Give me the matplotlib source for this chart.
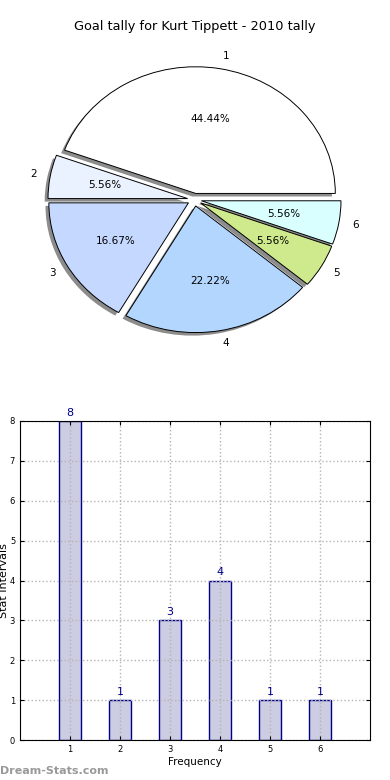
import matplotlib
matplotlib.use("Agg")
from matplotlib import pyplot as plt

# data
labels = ["1", "2", "3", "4", "5", "6"]
counts = [8, 1, 3, 4, 1, 1]
pie_colors = ["#FFFFFF", "#EAF1FF", "#C5D8FF", "#B3D6FF", "#CFEA8C", "#DAFFFF"]
title = "Goal tally for Kurt Tippett - 2010 tally"

fig = plt.figure(figsize=(3.9, 7.8), dpi=100)

# --- pie (old style, not equal aspect) ---
ax1 = fig.add_axes([20 / 390, 0.541, 349 / 390, 0.406])
# plain grey shadow under every wedge, like the old matplotlib look
ax1.pie(counts, colors=["#8c8c8c"] * len(counts), explode=[0.05] * 6,
        startangle=0, center=(-0.024, -0.024), frame=False,
        wedgeprops=dict(linewidth=0))
wedges, texts, autotexts = ax1.pie(
    counts, labels=labels, colors=pie_colors, explode=[0.05] * 6,
    autopct="%.2f%%", startangle=0,
    wedgeprops=dict(edgecolor="black", linewidth=0.7),
    textprops=dict(fontsize=7.5))
ax1.set_aspect("auto")
ax1.set_xlim(-1.25, 1.25)
ax1.set_ylim(-1.25, 1.25)
ax1.set_title(title, fontsize=9.3, pad=8)
ax1.axis("off")

# --- bars ---
ax2 = fig.add_axes([20 / 390, 40 / 780, 350 / 390, 319 / 780])
x = range(1, len(counts) + 1)
ax2.bar(x, counts, width=0.45, color="#CCCCE2", edgecolor="#000088", linewidth=1)
for xi, c in zip(x, counts):
    ax2.text(xi, c + 0.08, str(c), ha="center", va="bottom", fontsize=8, color="#000088")
ax2.set_xlim(0, 7)
ax2.set_ylim(0, 8)
ax2.set_xticks(list(x))
ax2.set_xticklabels(labels)
ax2.grid(True, color="#b4b4b4", linestyle=":", linewidth=1)
ax2.tick_params(labelsize=6, direction="in", top=True, right=True, length=3)
ax2.set_xlabel("Frequency", fontsize=7.5, labelpad=2)
ax2.set_ylabel("Stat Intervals", fontsize=8)
ax2.yaxis.set_label_coords(-0.03, 0.5)

fig.text(0.0, 0.008, "Dream-Stats.com", fontsize=8, color="#999999", fontweight="bold")

fig.savefig("out.png", dpi=100)
